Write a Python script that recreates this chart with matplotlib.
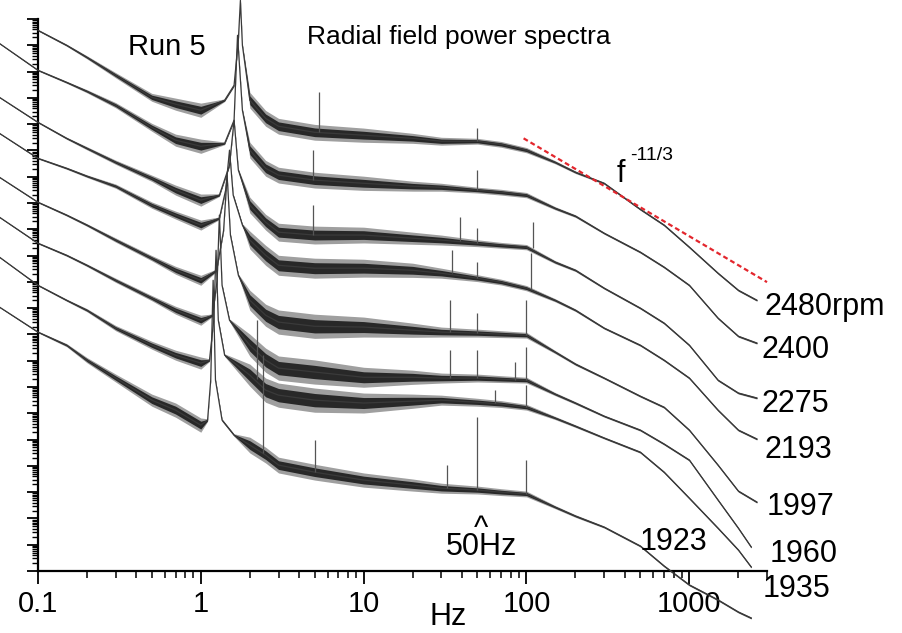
import numpy as np
import matplotlib
matplotlib.use("Agg")
import matplotlib.pyplot as plt
from matplotlib.ticker import LogLocator, NullFormatter, FixedLocator, FixedFormatter

nan = np.nan

# ---------------- data (frequency in Hz, level = log10 of power, arbitrary units) -------------
F_PRE = [0.058, 0.1, 0.15, 0.2, 0.3, 0.5, 0.7, 1.0]
F_POST = [2, 2.5, 3, 5, 10, 20, 30, 50, 70, 100, 150, 200, 300, 500, 700, 1000, 1500, 2000]

rpm_labels = ['2480rpm', '2400', '2275', '2193', '1997', '1960', '1935', '1923']
end_freq = [2600, 2600, 2600, 2600, 2600, 2400, 2400, 2400]

# 2480 rpm
A_pre = [nan, 0.57, 0.00, -0.46, -1.14, -1.98, -2.24, -2.47]
A_pk_f = [1.4, 1.6, 1.7, 1.75, 1.8]
A_pk_L = [-2.09, -1.52, 0.19, 1.71, 0.00]
A_post = [-2.09, -2.78, -3.08, -3.31, -3.42, -3.54, -3.65, -3.65, -3.77, -3.99,
          -4.45, -4.83, -5.25, -6.24, -6.84, -7.68, -8.67, -9.32, -9.70]
A_npre = [0.02, 0.03, 0.04, 0.06, 0.10, 0.15, 0.23, 0.27]
A_npost = [0.30, 0.30, 0.30, 0.30, 0.27, 0.19, 0.15, 0.11, 0.11, 0.10,
           0.06, 0.05, 0.04, 0.04, 0.04, 0.04, 0.04, 0.04, 0.04]
A_sp_f = [5.3, 50]
A_sp_lo = [-3.31, -3.65]
A_sp_hi = [-1.79, -3.16]

# 2400 rpm
B_pre = [0.07, -0.95, -1.41, -1.75, -2.28, -3.12, -3.61, -3.84]
B_pk_f = [1.4, 1.6, 1.68, 1.8]
B_pk_L = [-3.73, -2.85, 0.38, -2.47]
B_post = [-3.99, -4.68, -4.94, -5.13, -5.25, -5.36, -5.40, -5.51, -5.59, -5.70,
          -6.20, -6.50, -7.15, -7.87, -8.44, -9.13, -10.38, -11.07, -11.33]
B_npre = [0.02, 0.03, 0.04, 0.06, 0.10, 0.15, 0.23, 0.27]
B_npost = [0.30, 0.30, 0.30, 0.30, 0.27, 0.19, 0.15, 0.11, 0.11, 0.10,
           0.06, 0.05, 0.04, 0.04, 0.04, 0.04, 0.04, 0.04, 0.04]
B_sp_f = [4.9, 50]
B_sp_lo = [-5.13, -5.51]
B_sp_hi = [-3.99, -4.75]

# 2275 rpm
C_pre = [-1.98, -2.93, -3.54, -3.92, -4.45, -5.06, -5.51, -5.89]
C_pk_f = [1.3, 1.5, 1.6, 1.7]
C_pk_L = [-5.70, -4.56, -2.85, -4.75]
C_post = [-6.08, -6.73, -7.11, -7.22, -7.22, -7.34, -7.41, -7.53, -7.61, -7.68,
          -8.25, -8.56, -9.24, -10.00, -10.57, -11.41, -12.74, -13.23, -13.42]
C_npre = [0.02, 0.03, 0.04, 0.06, 0.08, 0.12, 0.19, 0.23]
C_npost = [0.30, 0.30, 0.34, 0.34, 0.30, 0.23, 0.19, 0.13, 0.11, 0.10,
           0.06, 0.05, 0.04, 0.04, 0.04, 0.04, 0.04, 0.04, 0.04]
C_sp_f = [4.9, 38.8, 50, 109]
C_sp_lo = [-7.22, -7.45, -7.53, -7.70]
C_sp_hi = [-6.08, -6.54, -6.96, -6.73]

# 2193 rpm
D_pre = [-3.35, -4.30, -4.68, -4.98, -5.36, -6.08, -6.46, -6.84]
D_pk_f = [1.3, 1.42, 1.5, 1.58, 1.8]
D_pk_L = [-6.58, -5.51, -3.99, -5.70, -6.84]
D_post = [-7.41, -7.99, -8.37, -8.48, -8.48, -8.56, -8.67, -8.86, -9.01, -9.24,
          -9.70, -10.08, -10.76, -11.41, -11.98, -12.66, -13.88, -14.64, -14.98]
D_npre = [0.02, 0.03, 0.04, 0.05, 0.08, 0.12, 0.15, 0.19]
D_npost = [0.34, 0.38, 0.38, 0.38, 0.34, 0.27, 0.19, 0.13, 0.11, 0.10,
           0.06, 0.05, 0.04, 0.04, 0.04, 0.04, 0.04, 0.04, 0.04]
D_sp_f = [34.7, 50, 106]
D_sp_lo = [-8.65, -8.86, -9.26]
D_sp_hi = [-7.80, -8.25, -7.91]

# 1997 rpm
E_pre = [-5.02, -5.97, -6.46, -6.84, -7.41, -8.10, -8.56, -8.94]
E_pk_f = [1.25, 1.38, 1.45, 1.52, 1.7]
E_pk_L = [-8.56, -7.04, -4.94, -7.22, -8.75]
E_post = [-9.70, -10.27, -10.53, -10.69, -10.72, -10.84, -10.91, -10.95, -10.99, -11.03,
          -11.67, -12.13, -12.66, -13.35, -13.77, -14.64, -15.97, -16.96, -17.38]
E_npre = [0.02, 0.03, 0.04, 0.05, 0.08, 0.10, 0.15, 0.19]
E_npost = [0.38, 0.42, 0.46, 0.46, 0.38, 0.27, 0.19, 0.15, 0.13, 0.11,
           0.06, 0.05, 0.04, 0.04, 0.04, 0.04, 0.04, 0.04, 0.04]
E_sp_f = [33.7, 50, 100]
E_sp_lo = [-10.90, -10.95, -11.03]
E_sp_hi = [-9.70, -10.19, -9.70]

# 1960 rpm
F_pre = [-6.54, -7.53, -7.99, -8.37, -8.94, -9.62, -10.08, -10.46]
F_pk_f = [1.18, 1.26, 1.3, 1.35, 1.5]
F_pk_L = [-10.27, -8.94, -6.46, -9.13, -10.46]
F_post = [-11.41, -11.98, -12.28, -12.43, -12.63, -12.63, -12.66, -12.66, -12.70, -12.74,
          -13.27, -13.61, -14.11, -14.64, -15.17, -15.78, -17.30, -18.37, -19.09]
F_npre = [0.02, 0.03, 0.04, 0.05, 0.08, 0.10, 0.15, 0.19]
F_npost = [0.42, 0.46, 0.46, 0.46, 0.38, 0.27, 0.19, 0.15, 0.13, 0.11,
           0.06, 0.05, 0.04, 0.04, 0.04, 0.04, 0.04, 0.04, 0.04]
F_sp_f = [33.7, 50, 85, 100]
F_sp_lo = [-12.66, -12.66, -12.72, -12.74]
F_sp_hi = [-11.60, -11.60, -12.05, -11.48]

# 1935 rpm
G_pre = [-8.06, -9.13, -9.70, -10.08, -10.76, -11.41, -11.79, -12.09]
G_pk_f = [1.13, 1.2, 1.24, 1.28, 1.4]
G_pk_L = [-11.98, -10.46, -7.80, -10.46, -11.79]
G_post = [-12.55, -13.12, -13.31, -13.50, -13.61, -13.54, -13.50, -13.58, -13.65, -13.77,
          -14.18, -14.49, -14.94, -15.48, -16.24, -17.23, -18.37, -19.20, -19.85]
G_npre = [0.02, 0.03, 0.04, 0.06, 0.10, 0.15, 0.19, 0.23]
G_npost = [0.42, 0.46, 0.46, 0.46, 0.38, 0.27, 0.19, 0.15, 0.13, 0.11,
           0.06, 0.05, 0.04, 0.04, 0.04, 0.04, 0.04, 0.04, 0.04]
G_sp_f = [2.2, 64, 100]
G_sp_lo = [-12.70, -13.62, -13.77]
G_sp_hi = [-10.46, -13.12, -12.93]

# 1923 rpm
H_pre = [-9.96, -10.91, -11.41, -11.98, -12.66, -13.50, -13.88, -14.45]
H_pk_f = [1.1, 1.15, 1.19, 1.23, 1.35, 1.6]
H_pk_L = [-14.26, -12.74, -8.94, -12.74, -14.26, -14.83]
H_post = [-15.21, -15.59, -15.97, -16.24, -16.54, -16.73, -16.85, -16.92, -17.00, -17.07,
          -17.57, -17.91, -18.33, -19.05, -19.81, -20.53, -21.10, -21.56, -21.79]
H_npre = [0.02, 0.03, 0.06, 0.10, 0.15, 0.23, 0.27, 0.27]
H_npost = [0.30, 0.30, 0.30, 0.30, 0.27, 0.23, 0.19, 0.15, 0.13, 0.11,
           0.06, 0.05, 0.04, 0.04, 0.04, 0.04, 0.04, 0.04, 0.04]
H_sp_f = [2.4, 5.0, 32.3, 50, 100]
H_sp_lo = [-15.50, -16.24, -16.85, -16.92, -17.07]
H_sp_hi = [-11.79, -15.02, -15.97, -14.15, -15.78]

# f^-11/3 reference line
ref_f = [96, 3000]
ref_L = [-3.54, -9.01]

curves = [
    (A_pre, A_pk_f, A_pk_L, A_post, A_npre, A_npost, A_sp_f, A_sp_lo, A_sp_hi),
    (B_pre, B_pk_f, B_pk_L, B_post, B_npre, B_npost, B_sp_f, B_sp_lo, B_sp_hi),
    (C_pre, C_pk_f, C_pk_L, C_post, C_npre, C_npost, C_sp_f, C_sp_lo, C_sp_hi),
    (D_pre, D_pk_f, D_pk_L, D_post, D_npre, D_npost, D_sp_f, D_sp_lo, D_sp_hi),
    (E_pre, E_pk_f, E_pk_L, E_post, E_npre, E_npost, E_sp_f, E_sp_lo, E_sp_hi),
    (F_pre, F_pk_f, F_pk_L, F_post, F_npre, F_npost, F_sp_f, F_sp_lo, F_sp_hi),
    (G_pre, G_pk_f, G_pk_L, G_post, G_npre, G_npost, G_sp_f, G_sp_lo, G_sp_hi),
    (H_pre, H_pk_f, H_pk_L, H_post, H_npre, H_npost, H_sp_f, H_sp_lo, H_sp_hi),
]

# ---------------- figure ----------------
plt.rcParams['font.family'] = ['Liberation Sans', 'DejaVu Sans']
W, H = 903, 633
fig = plt.figure(figsize=(W / 100, H / 100), dpi=100)
ax = fig.add_axes([38 / W, 1 - 571 / H, (767 - 38) / W, (571 - 19) / H])

PEAK_NOISE = 0.05
for i, (pre, pkf, pkL, post, npre, npost, spf, splo, sphi) in enumerate(curves):
    f = np.array(F_PRE + pkf + F_POST + [end_freq[i]], dtype=float)
    L = np.array(pre + pkL + post, dtype=float)
    n = np.array(npre + [PEAK_NOISE] * len(pkf) + npost, dtype=float)
    ok = ~np.isnan(L)
    f, L, n = f[ok], L[ok], n[ok]
    # outer (sparse) and inner (dense) parts of the noise band
    ax.fill_between(f, 10 ** (L - n), 10 ** (L + n), color='#2a2a2a', alpha=0.45,
                    lw=0, clip_on=False, zorder=2)
    ax.fill_between(f, 10 ** (L - 0.55 * n), 10 ** (L + 0.55 * n), color='#0a0a0a',
                    alpha=0.8, lw=0, clip_on=False, zorder=2)
    ax.plot(f, 10 ** L, color='#3a3a3a', lw=0.9, clip_on=False, zorder=3)
    ax.vlines(spf, 10 ** np.array(splo), 10 ** np.array(sphi), color='#555555',
              lw=0.9, clip_on=False, zorder=3)

ax.plot(ref_f, 10 ** np.array(ref_L), color='#e3262d', lw=1.6, ls=(0, (2.2, 1.4)),
        clip_on=False, zorder=4)

ax.set_xscale('log')
ax.set_yscale('log')
ax.set_xlim(0.1, 3000)
ax.set_ylim(1e-20, 1e1)

ax.xaxis.set_major_locator(FixedLocator([0.1, 1, 10, 100, 1000]))
ax.xaxis.set_major_formatter(FixedFormatter(['0.1', '1', '10', '100', '1000']))
ax.xaxis.set_minor_locator(LogLocator(base=10, subs=np.arange(2, 10), numticks=40))
ax.xaxis.set_minor_formatter(NullFormatter())
ax.yaxis.set_major_locator(LogLocator(base=10, numticks=40))
ax.yaxis.set_minor_locator(LogLocator(base=10, subs=np.arange(2, 10), numticks=40))
ax.yaxis.set_major_formatter(NullFormatter())
ax.yaxis.set_minor_formatter(NullFormatter())

for s in ['top', 'right']:
    ax.spines[s].set_visible(False)
for s in ['left', 'bottom']:
    ax.spines[s].set_linewidth(1.6)
ax.tick_params(axis='x', which='major', direction='out', length=9, width=1.3,
               labelsize=21, pad=5)
ax.tick_params(axis='x', which='minor', direction='out', length=5, width=1.1)
ax.tick_params(axis='y', which='major', direction='out', length=8, width=1.3)
ax.tick_params(axis='y', which='minor', direction='out', length=4, width=1.0)


def fp(x, y):
    return x / W, 1 - y / H


fig.text(*fp(307, 44), 'Radial field power spectra', fontsize=19, va='baseline', ha='left')
fig.text(*fp(128, 55), 'Run 5', fontsize=21, va='baseline', ha='left')
fig.text(*fp(617, 182), 'f', fontsize=22, va='baseline', ha='left')
fig.text(*fp(630, 160), '-11/3', fontsize=14, va='baseline', ha='left')
fig.text(*fp(430, 625), 'Hz', fontsize=22, va='baseline', ha='left')
fig.text(*fp(481, 555), '^\n50Hz', fontsize=22, va='baseline', ha='center',
         multialignment='center', linespacing=0.48)

label_pos = [(765, 315), (762, 358), (762, 412), (765, 458), (767, 515),
             (770, 562), (763, 597), (640, 550)]
for lab, (x, y) in zip(rpm_labels, label_pos):
    fig.text(*fp(x, y), lab, fontsize=22, va='baseline', ha='left')

fig.savefig('out.png', dpi=100)
